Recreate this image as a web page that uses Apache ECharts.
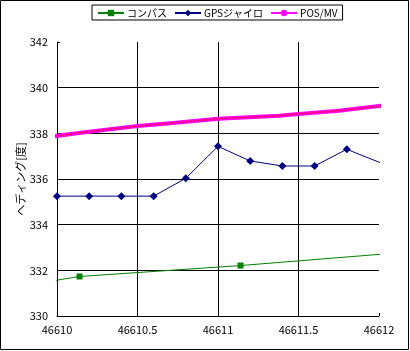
<!DOCTYPE html>
<html>
<head>
<meta charset="utf-8">
<script src="https://cdn.jsdelivr.net/npm/echarts@6/dist/echarts.min.js"></script>
<style>
  html, body { margin: 0; padding: 0; background: #fff; }
  #chart { width: 410px; height: 351px; }
</style>
</head>
<body>
<div id="chart"></div>
<script>
    // values
    const compassX = [46609.98, 46610.14, 46611.14, 46612.02];
    const compassY = [331.55, 331.73, 332.21, 332.71];

    const gyroX = [46609.98, 46610.0, 46610.2, 46610.4, 46610.6, 46610.8, 46611.0, 46611.2, 46611.4, 46611.6, 46611.8, 46612.02];
    const gyroY = [335.33, 335.25, 335.25, 335.25, 335.25, 336.03, 337.43, 336.79, 336.57, 336.57, 337.3, 336.68];

    const posX = [46609.98, 46610.16, 46610.5, 46610.72, 46611.0, 46611.38, 46611.5, 46611.75, 46612.02];
    const posY = [337.87, 338.04, 338.32, 338.45, 338.64, 338.77, 338.85, 338.99, 339.21];

    const seriesNames = ['コンパス', 'GPSジャイロ', 'POS/MV'];

    // first and last points only carry the line past the plot edge, so no marker there
    function points(xs, ys) {
        return xs.map(function (x, i) {
            if (i === 0 || i === xs.length - 1) {
                return { value: [x, ys[i]], symbol: 'none' };
            }
            return [x, ys[i]];
        });
    }

    const font = "'Noto Sans CJK JP', sans-serif";

    let chart = echarts.init(document.getElementById('chart'));
    chart.setOption({
        backgroundColor: '#fff',
        animation: false,
        textStyle: { fontFamily: font },
        graphic: [{
            type: 'rect',
            shape: { x: 0.5, y: 0.5, width: 408, height: 349 },
            style: { fill: 'none', stroke: '#000', lineWidth: 1 },
            silent: true
        }],
        legend: {
            data: seriesNames,
            left: 92,
            top: 5,
            padding: [3, 5, 2, 5],
            itemGap: 7,
            itemWidth: 26,
            itemHeight: 8,
            borderColor: '#000',
            borderWidth: 1,
            borderRadius: 0,
            textStyle: { fontSize: 10, color: '#000', fontFamily: font, padding: [0, 0, 0, -2] }
        },
        grid: { left: 57, right: 31, top: 42, bottom: 35 },
        xAxis: {
            type: 'value',
            min: 46610,
            max: 46612,
            interval: 0.5,
            axisLine: { lineStyle: { color: '#000', width: 1 } },
            axisTick: { inside: true, length: 3, lineStyle: { color: '#000' } },
            axisLabel: {
                color: '#000', fontSize: 11, margin: 8, fontFamily: font,
                formatter: function (v) { return String(v); }
            },
            splitLine: { show: true, showMinLine: false, showMaxLine: false, lineStyle: { color: '#000', width: 1 } }
        },
        yAxis: {
            type: 'value',
            min: 330,
            max: 342,
            interval: 2,
            name: 'ヘディング[度]',
            nameLocation: 'middle',
            nameGap: 31,
            nameRotate: 90,
            nameMoveOverlap: false,
            nameTextStyle: { fontSize: 11, color: '#000', fontFamily: font },
            axisLine: { show: true, lineStyle: { color: '#000', width: 1 } },
            axisTick: { show: true, inside: true, length: 3, lineStyle: { color: '#000' } },
            axisLabel: { color: '#000', fontSize: 11, margin: 9, fontFamily: font },
            splitLine: { show: true, showMinLine: false, showMaxLine: false, lineStyle: { color: '#000', width: 1 } }
        },
        series: [
            {
                name: seriesNames[0],
                type: 'line',
                data: points(compassX, compassY),
                clip: false,
                symbol: 'rect',
                symbolSize: 6,
                itemStyle: { color: '#008000' },
                lineStyle: { color: '#008000', width: 1 }
            },
            {
                name: seriesNames[1],
                type: 'line',
                data: points(gyroX, gyroY),
                clip: false,
                symbol: 'diamond',
                symbolSize: 8,
                itemStyle: { color: '#000080' },
                lineStyle: { color: '#000080', width: 1 }
            },
            {
                name: seriesNames[2],
                type: 'line',
                data: points(posX, posY),
                clip: false,
                symbol: 'none',
                itemStyle: { color: '#ff00ff' },
                lineStyle: { color: '#ff00ff', width: 4 }
            },
            {
                name: seriesNames[2],
                type: 'line',
                data: points(posX, posY),
                clip: false,
                symbol: 'none',
                silent: true,
                z: 3,
                lineStyle: { color: '#ff0000', width: 1.5, type: [2, 2] }
            }
        ]
    });
</script>
</body>
</html>
